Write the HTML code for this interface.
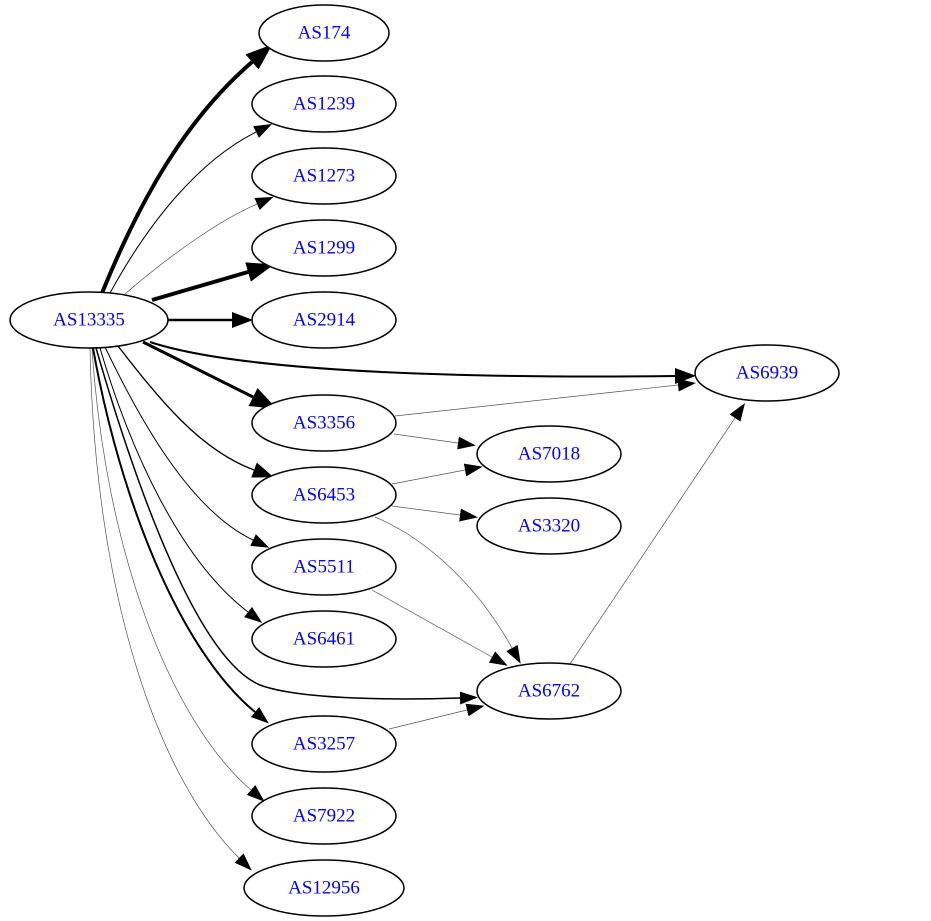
<!DOCTYPE html>
<html><head><meta charset="utf-8"><style>
html,body{margin:0;padding:0;background:#fff;}
svg{display:block;}
text{font-family:"Liberation Serif",serif;font-size:19px;fill:#0000ff;text-anchor:middle;dominant-baseline:central;}
ellipse{fill:#fff;stroke:#000;stroke-width:1.5;}
</style></head><body>
<svg width="931" height="921" viewBox="0 0 931 921" xmlns="http://www.w3.org/2000/svg">
<defs>
<marker id="s" markerUnits="userSpaceOnUse" markerWidth="30" markerHeight="30" refX="0" refY="7" orient="auto" viewBox="0 0 30 30"><path d="M0,0.5 L18,7 L0,13.5Z" fill="#000"/></marker>
<marker id="m" markerUnits="userSpaceOnUse" markerWidth="30" markerHeight="30" refX="0" refY="8" orient="auto" viewBox="0 0 30 30"><path d="M0,0 L21,8 L0,16Z" fill="#000"/></marker>
<marker id="l" markerUnits="userSpaceOnUse" markerWidth="40" markerHeight="40" refX="0" refY="10" orient="auto" viewBox="0 0 40 40"><path d="M0,0 L27,10 L0,20Z" fill="#000"/></marker>
</defs>
<g fill="none" stroke="#000">
<path d="M102,293 C140,200 185,120 252,62" stroke-width="4" marker-end="url(#l)"/>
<path d="M110,293 C150,220 200,160 256,132" stroke-width="1" marker-end="url(#s)"/>
<path d="M125,294 C170,255 220,220 257,204" stroke-width="0.7" stroke="#555" marker-end="url(#s)"/>
<path d="M152,300 L248,272" stroke-width="4" marker-end="url(#l)"/>
<path d="M168,320 L232,320" stroke-width="2.5" marker-end="url(#m)"/>
<path d="M150,342 C250,375 500,378 675,376" stroke-width="2" marker-end="url(#m)"/>
<path d="M143,342 L253,397" stroke-width="3" marker-end="url(#l)"/>
<path d="M118,346 C160,400 200,450 254,470" stroke-width="1.3" marker-end="url(#m)"/>
<path d="M105,347 C140,420 190,510 253,540" stroke-width="1" marker-end="url(#s)"/>
<path d="M100,348 C130,450 180,560 248,612" stroke-width="1" marker-end="url(#s)"/>
<path d="M96,348 C140,500 200,660 260,685 C300,700 400,700 460,698" stroke-width="1.5" marker-end="url(#s)"/>
<path d="M93,348 C120,500 180,650 255,712" stroke-width="2" marker-end="url(#s)"/>
<path d="M92,348 C105,550 170,720 251,790" stroke-width="0.7" stroke="#555" marker-end="url(#s)"/>
<path d="M90,348 C95,600 160,780 239,858" stroke-width="0.7" stroke="#555" marker-end="url(#s)"/>
<path d="M395,416 L678,385" stroke-width="0.7" stroke="#555" marker-end="url(#s)"/>
<path d="M394,434 L458,443" stroke-width="0.7" stroke="#555" marker-end="url(#s)"/>
<path d="M392,484 L465,470" stroke-width="0.7" stroke="#555" marker-end="url(#s)"/>
<path d="M392,506 L460,515" stroke-width="0.7" stroke="#555" marker-end="url(#s)"/>
<path d="M375,517 C430,540 480,590 512,648" stroke-width="0.7" stroke="#555" marker-end="url(#s)"/>
<path d="M372,590 L492,657" stroke-width="0.7" stroke="#555" marker-end="url(#s)"/>
<path d="M389,729 L467,710" stroke-width="0.7" stroke="#555" marker-end="url(#s)"/>
<path d="M570,664 L735,418" stroke-width="0.7" stroke="#555" marker-end="url(#s)"/>
</g>
<ellipse cx="324" cy="33" rx="65" ry="28"/><text x="324" y="33">AS174</text>
<ellipse cx="324" cy="104" rx="72" ry="28"/><text x="324" y="104">AS1239</text>
<ellipse cx="324" cy="176" rx="72" ry="28"/><text x="324" y="176">AS1273</text>
<ellipse cx="324" cy="248" rx="72" ry="28"/><text x="324" y="248">AS1299</text>
<ellipse cx="324" cy="320" rx="72" ry="28"/><text x="324" y="320">AS2914</text>
<ellipse cx="89" cy="320" rx="79" ry="28"/><text x="89" y="320">AS13335</text>
<ellipse cx="767" cy="373" rx="72" ry="28"/><text x="767" y="373">AS6939</text>
<ellipse cx="324" cy="423" rx="72" ry="28"/><text x="324" y="423">AS3356</text>
<ellipse cx="549" cy="454" rx="72" ry="28"/><text x="549" y="454">AS7018</text>
<ellipse cx="324" cy="495" rx="72" ry="28"/><text x="324" y="495">AS6453</text>
<ellipse cx="549" cy="526" rx="72" ry="28"/><text x="549" y="526">AS3320</text>
<ellipse cx="324" cy="567" rx="72" ry="28"/><text x="324" y="567">AS5511</text>
<ellipse cx="324" cy="639" rx="72" ry="28"/><text x="324" y="639">AS6461</text>
<ellipse cx="549" cy="691" rx="72" ry="28"/><text x="549" y="691">AS6762</text>
<ellipse cx="324" cy="744" rx="72" ry="28"/><text x="324" y="744">AS3257</text>
<ellipse cx="324" cy="816" rx="72" ry="28"/><text x="324" y="816">AS7922</text>
<ellipse cx="324" cy="888" rx="80" ry="28"/><text x="324" y="888">AS12956</text>
</svg>
</body></html>
